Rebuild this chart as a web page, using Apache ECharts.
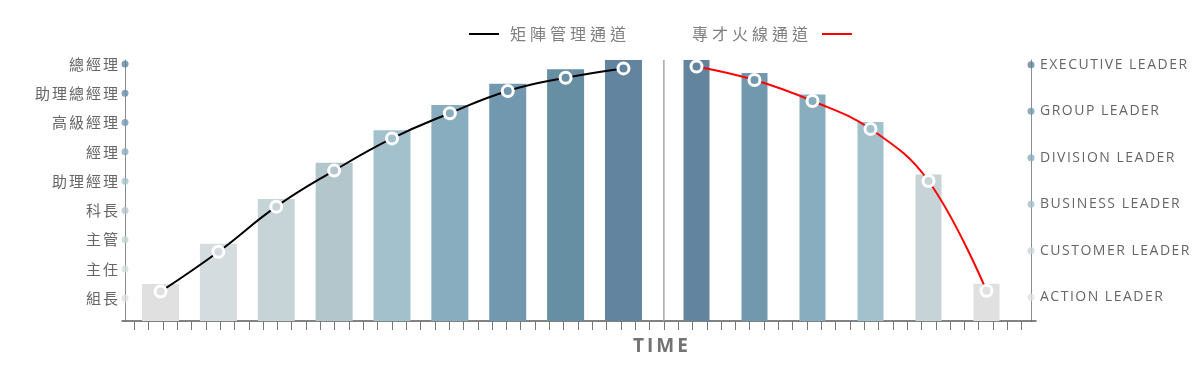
<!DOCTYPE html>
<html><head><meta charset="utf-8">
<script src="https://cdn.jsdelivr.net/npm/echarts@6/dist/echarts.min.js"></script>
<style>html,body{margin:0;padding:0;background:#fff}#c{width:1201px;height:367px}</style>
</head><body><div id="c"></div>
<script>
// ---------- data ----------
const leftLevels = ['組長','主任','主管','科長','助理經理','經理','高級經理','助理總經理','總經理'];
const rightLevels = ['ACTION LEADER','CUSTOMER LEADER','BUSINESS LEADER','DIVISION LEADER','GROUP LEADER','EXECUTIVE LEADER'];
const leftCategories = leftLevels.slice();
const rightCategories = rightLevels.slice().reverse();
const leftBars = [1.49, 2.86, 4.39, 5.63, 6.74, 7.60, 8.33, 8.82, 9.14];
const leftLine = [1.23, 2.59, 4.13, 5.36, 6.46, 7.32, 8.08, 8.53, 8.85];
const rightBars = [6.10, 5.82, 5.36, 4.77, 3.64, 1.29];
const rightLine = [5.96, 5.67, 5.22, 4.62, 3.50, 1.14];
const seriesNames = ['矩陣管理通道', '專才火線通道'];
const xTitle = 'TIME';
const timeTickCount = 62;
const dividerTick = 37;

// ---------- styles ----------
const leftColors = ['#e0e0e0','#d5dcdf','#c6d4d8','#b3c6cc','#a3c1cc','#88adbf','#7198ae','#668fa4','#62849f'];
const rightColors = ['#e0e0e0','#c6d4d8','#a3c1cc','#88adbf','#7298ae','#62849f'];
const rightBarColors = rightColors.slice().reverse();

// letter spacing via canvas
(function(){
  const proto = CanvasRenderingContext2D.prototype;
  const d = Object.getOwnPropertyDescriptor(proto, 'font');
  if (!d || !('letterSpacing' in proto)) return;
  function sp(font){
    if (font.indexOf('Noto Sans CJK TC') >= 0) return font.indexOf('16px') >= 0 ? '4px' : '2px';
    if (font.indexOf('Open Sans') >= 0) return font.indexOf('bold') >= 0 ? '3px' : '1.5px';
    return '0px';
  }
  Object.defineProperty(proto, 'font', {
    configurable: true,
    get(){ return d.get.call(this); },
    set(v){ d.set.call(this, v); try { this.letterSpacing = sp(String(v)); } catch(e){} }
  });
})();

const tickValues = [];
for (let i = 0; i <= timeTickCount; i++) tickValues.push(i);

const chart = echarts.init(document.getElementById('c'), null, {renderer: 'canvas'});
const LMIN = 0.225, LMAX = 9.137, RMIN = 0.4905, RMAX = 6.101;
const legendText = {color:'#7f7f7f', fontSize:16, fontFamily:'Noto Sans CJK TC'};
const lineIcon = 'path://M0,0H30V2H0Z';

chart.setOption({
  animation: false,
  title: {text: xTitle, left: 633, top: 336, padding: 0,
    textStyle: {fontSize: 19, fontWeight: 'bold', color: '#737373', fontFamily: 'Open Sans'}},
  legend: [
    {data: [{name: seriesNames[0], itemStyle: {color: '#000', borderWidth: 0}}], left: 469, top: 24, padding: 0,
      icon: lineIcon, itemWidth: 42, itemHeight: 2, textStyle: legendText, selectedMode: false},
    {data: [{name: seriesNames[1], itemStyle: {color: '#ff0000', borderWidth: 0}}], left: 692, top: 24, padding: 0, align: 'right',
      icon: lineIcon, itemWidth: 40, itemHeight: 2, textStyle: legendText, selectedMode: false}
  ],
  grid: [
    {left: 125, right: 170, top: 60, bottom: 46},
    {left: 122, right: 165, top: 60, bottom: 46},
    {left: 131.6, width: 520.8, top: 60, bottom: 46},
    {left: 667.5, width: 348, top: 60, bottom: 46}
  ],
  xAxis: [
    {gridIndex: 0, type: 'value', min: 0, max: 1, show: false},
    {gridIndex: 1, type: 'value', min: -0.859, max: 63.0,
      axisLine: {show: true, lineStyle: {color: '#5a5a5a', width: 1.5}},
      axisTick: {show: true, customValues: tickValues, length: 9, lineStyle: {color: '#777', width: 1}},
      axisLabel: {show: false}, splitLine: {show: false}},
    {gridIndex: 2, type: 'category', data: leftCategories, show: false},
    {gridIndex: 3, type: 'category', data: rightCategories, show: false}
  ],
  yAxis: [
    {gridIndex: 0, type: 'value', min: LMIN, max: LMAX, position: 'left',
      axisLine: {show: true, lineStyle: {color: '#8c8c8c', width: 1}},
      axisTick: {show: false}, splitLine: {show: false},
      axisLabel: {customValues: leftLevels.map((n, i) => i + 1),
        formatter: v => leftLevels[Math.round(v) - 1] || '',
        color: '#666', fontSize: 15, fontFamily: 'Noto Sans CJK TC', margin: 5}},
    {gridIndex: 0, type: 'value', min: RMIN, max: RMAX, position: 'right',
      axisLine: {show: true, lineStyle: {color: '#8c8c8c', width: 1}},
      axisTick: {show: false}, splitLine: {show: false},
      axisLabel: {customValues: rightLevels.map((n, i) => i + 1),
        formatter: v => rightLevels[Math.round(v) - 1] || '',
        color: '#666', fontSize: 14, fontFamily: 'Open Sans', margin: 9}},
    {gridIndex: 1, type: 'value', min: 0, max: 1, show: false},
    {gridIndex: 2, type: 'value', min: LMIN, max: LMAX, show: false},
    {gridIndex: 3, type: 'value', min: RMIN, max: RMAX, show: false}
  ],
  series: [
    {type: 'line', xAxisIndex: 1, yAxisIndex: 2, data: [[dividerTick, 0], [dividerTick, 1]],
      symbol: 'none', silent: true, lineStyle: {color: '#a6a6a6', width: 1.5}, z: 1},
    {type: 'bar', xAxisIndex: 2, yAxisIndex: 3, barWidth: 37, clip: true, silent: true, z: 2,
      data: leftBars.map((v, i) => ({value: v, itemStyle: {color: leftColors[i]}}))},
    {type: 'bar', xAxisIndex: 3, yAxisIndex: 4, barWidth: 26, clip: true, silent: true, z: 2,
      data: rightBars.map((v, i) => ({value: v, itemStyle: {color: rightBarColors[i]}}))},
    {name: seriesNames[0], type: 'line', xAxisIndex: 2, yAxisIndex: 3, smooth: 0.45, clip: false, z: 4,
      symbol: 'circle', symbolSize: 11,
      itemStyle: {color: '#000', borderColor: '#fff', borderWidth: 3},
      lineStyle: {color: '#000', width: 2},
      data: leftLine.map((v, i) => ({value: v, itemStyle: {color: leftColors[i], borderColor: '#fff', borderWidth: 3}}))},
    {name: seriesNames[1], type: 'line', xAxisIndex: 3, yAxisIndex: 4, smooth: 0.4, clip: false, z: 4,
      symbol: 'circle', symbolSize: 11,
      itemStyle: {color: '#ff0000', borderColor: '#fff', borderWidth: 3},
      lineStyle: {color: '#ff0000', width: 2},
      data: rightLine.map((v, i) => ({value: v, itemStyle: {color: rightBarColors[i], borderColor: '#fff', borderWidth: 3}}))},
    {type: 'scatter', xAxisIndex: 0, yAxisIndex: 0, symbolSize: 7, clip: false, silent: true, z: 5,
      data: leftLevels.map((n, i) => ({value: [0, i + 1], itemStyle: {color: leftColors[i]}}))},
    {type: 'scatter', xAxisIndex: 0, yAxisIndex: 1, symbolSize: 7, clip: false, silent: true, z: 5,
      data: rightLevels.map((n, i) => ({value: [1, i + 1], itemStyle: {color: rightColors[i]}}))}
  ]
});
</script></body></html>
